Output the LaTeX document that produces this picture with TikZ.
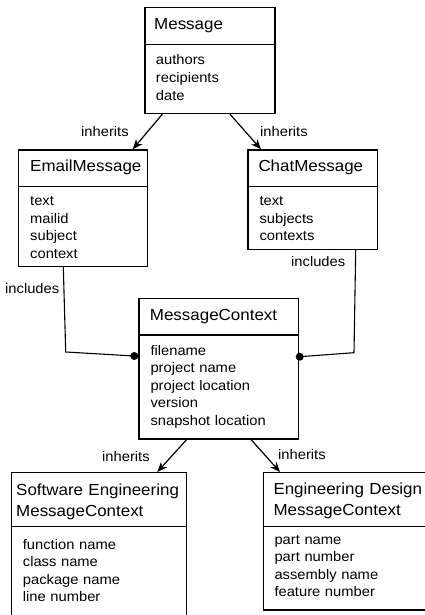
\documentclass[tikz,border=0pt]{standalone}
\usepackage{fontspec}
\setmainfont{Liberation Sans}[FakeStretch=1.06]
\usetikzlibrary{arrows.meta}
\tikzset{
  x=1pt, y=-1pt,
  box/.style={draw, line width=1.2pt, anchor=north west, inner sep=0pt},
  ttl/.style={anchor=base west, inner sep=0pt, text width=170pt, align=left, font=\fontsize{16}{21}\selectfont},
  attr/.style={anchor=base west, inner sep=0pt, text width=170pt, align=left, font=\fontsize{13.9}{17.6}\selectfont},
  lbl/.style={anchor=base west, inner sep=0pt, font=\fontsize{13.9}{17}\selectfont},
  inh/.style={line width=1.2pt, -{Stealth[length=10pt,width=8pt,inset=3pt]}},
  incl/.style={line width=1.1pt},
  dot/.style={circle, fill, inner sep=0pt, minimum size=8pt}
}
\begin{document}
\begin{tikzpicture}
\useasboundingbox (0,0) rectangle (425,615);
\fill[white] (0,0) rectangle (425,615);
\clip (0,0) rectangle (425,615);

% Message
\node[box, minimum width=130pt, minimum height=36.7pt] (msgT) at (144.3,7.3) {};
\node[box, minimum width=130pt, minimum height=69pt] (msgA) at (144.3,44) {};
\node[ttl] (msgTt) at (154,29.5) {Message};
\node[attr] (msgAt) at (155.7,65) {authors\\recipients\\date};

% EmailMessage
\node[box, minimum width=129pt, minimum height=36.7pt] (emT) at (18,149.3) {};
\node[box, minimum width=129pt, minimum height=79.7pt] (emA) at (18,186) {};
\node[ttl] (emTt) at (30,171.7) {EmailMessage};
\node[attr] (emAt) at (30,205.7) {text\\mailid\\subject\\context};

% ChatMessage
\node[box, minimum width=129.4pt, minimum height=36.7pt] (chT) at (247.3,149.3) {};
\node[box, minimum width=129.4pt, minimum height=63pt] (chA) at (247.3,186) {};
\node[ttl] (chTt) at (258.3,171.7) {ChatMessage};
\node[attr] (chAt) at (259.3,205.7) {text\\subjects\\contexts};

% MessageContext
\node[box, minimum width=159.4pt, minimum height=36.6pt] (mcT) at (138.3,297.7) {};
\node[box, minimum width=159.4pt, minimum height=104pt] (mcA) at (138.3,334.3) {};
\node[ttl] (mcTt) at (149.7,320.7) {MessageContext};
\node[attr] (mcAt) at (150.3,355) {filename\\project name\\project location\\version\\snapshot location};

% Software Engineering MessageContext
\node[box, minimum width=175pt, minimum height=54pt] (seT) at (11,472) {};
\node[box, minimum width=175pt, minimum height=100pt] (seA) at (11,526) {};
\node[ttl] (seTt) at (16,495) {Software Engineering\\MessageContext};
\node[attr] (seAt) at (22.7,549) {function name\\class name\\package name\\line number};

% Engineering Design MessageContext
\node[box, minimum width=170pt, minimum height=54pt] (edT) at (262.7,472) {};
\node[box, minimum width=170pt, minimum height=83.3pt] (edA) at (262.7,526) {};
\node[ttl] (edTt) at (273.3,494.5) {Engineering Design\\MessageContext};
\node[attr] (edAt) at (274.3,544) {part name\\part number\\assembly name\\feature number};

% inherits arrows
\draw[inh] ([xshift=18pt]msgA.south west) -- ([xshift=114.7pt]emT.north west);
\draw[inh] ([xshift=85.7pt]msgA.south west) -- ([xshift=13.7pt]chT.north west);
\draw[inh] ([xshift=48.4pt]mcA.south west) -- ([xshift=146.3pt]seT.north west);
\draw[inh] ([xshift=112.7pt]mcA.south west) -- ([xshift=17.3pt]edT.north west);
\node[lbl] (l1) at (81,136.3) {inherits};
\node[lbl] (l2) at (260,136.3) {inherits};
\node[lbl] (l3) at (102,461) {inherits};
\node[lbl] (l4) at (278,459.3) {inherits};

% includes connectors
\node[dot] (ldot) at (134.3,356) {};
\node[dot] (rdot) at (299.7,356.7) {};
\coordinate (lbend) at (65.7,352);
\coordinate (rbend) at (354,352.7);
\draw[incl] ([xshift=45.3pt]emA.south west) -- (lbend) -- (ldot.center);
\draw[incl] ([xshift=108.4pt]chA.south west) -- (rbend) -- (rdot.center);
\node[lbl] (i1) at (5,293.3) {includes};
\node[lbl] (i2) at (291,266.7) {includes};
\end{tikzpicture}
\end{document}
